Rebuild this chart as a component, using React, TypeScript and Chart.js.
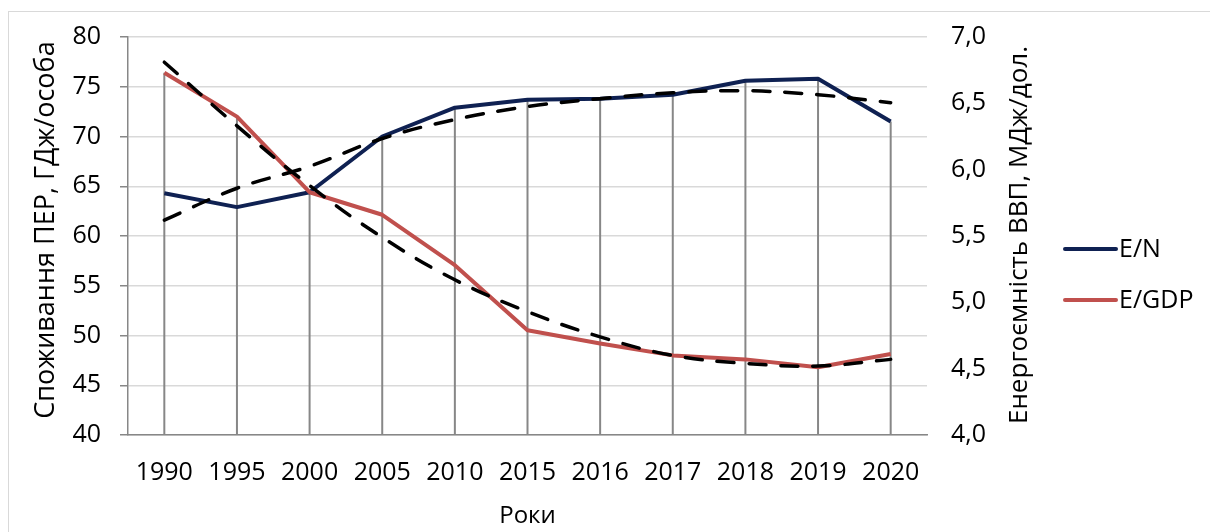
import React, { useEffect, useRef } from 'react';
import { Chart, registerables } from 'chart.js';

Chart.register(...registerables);

const categories = ['1990', '1995', '2000', '2005', '2010', '2015', '2016', '2017', '2018', '2019', '2020'];
const energyPerCapita = [64.3, 62.9, 64.4, 70.0, 72.9, 73.7, 73.8, 74.2, 75.6, 75.8, 71.5];
const energyIntensity = [6.73, 6.40, 5.83, 5.66, 5.28, 4.79, 4.69, 4.60, 4.57, 4.51, 4.61];
const energyPerCapitaTrend = [61.6, 64.8, 67.0, 69.8, 71.7, 73.0, 73.8, 74.4, 74.6, 74.2, 73.4];
const energyIntensityTrend = [6.81, 6.33, 5.88, 5.49, 5.17, 4.93, 4.74, 4.60, 4.54, 4.52, 4.57];
const seriesNames = ['E/N', 'E/GDP'];
const leftTitle = 'Споживання ПЕР, ГДж/особа';
const rightTitle = 'Енергоємність ВВП, МДж/дол.';
const xTitle = 'Роки';

const FONT = '"Open Sans"';
const NAVY = '#0f2152';
const RED = '#c0504d';

const overlayPlugin = {
  id: 'overlay',
  beforeDatasetsDraw(chart: any) {
    const { ctx, chartArea, scales } = chart;
    ctx.save();
    ctx.strokeStyle = '#878787';
    ctx.lineWidth = 2;
    categories.forEach((_, i) => {
      const px = scales.x.getPixelForValue(i);
      const top = Math.min(
        scales.y.getPixelForValue(energyPerCapita[i]),
        scales.y1.getPixelForValue(energyIntensity[i])
      );
      ctx.beginPath();
      ctx.moveTo(px, top);
      ctx.lineTo(px, chartArea.bottom);
      ctx.stroke();
    });
    ctx.restore();
  },
  afterDraw(chart: any) {
    const { ctx, chartArea } = chart;
    ctx.save();
    ctx.fillStyle = '#000';
    ctx.textAlign = 'center';
    ctx.textBaseline = 'middle';
    // left title
    ctx.save();
    ctx.font = `27px ${FONT}`;
    ctx.translate(37, 218);
    ctx.rotate(-Math.PI / 2);
    ctx.fillText(leftTitle, 0, 0);
    ctx.restore();
    // right title
    ctx.save();
    ctx.font = `26px ${FONT}`;
    ctx.translate(1011, 223);
    ctx.rotate(-Math.PI / 2);
    ctx.fillText(rightTitle, 0, 0);
    ctx.restore();
    // x title
    ctx.font = `24px ${FONT}`;
    ctx.fillText(xTitle, (chartArea.left + chartArea.right) / 2, 504);
    // legend
    const colors = [NAVY, RED];
    const ys = [237, 288];
    ctx.font = `25px ${FONT}`;
    ctx.textAlign = 'left';
    seriesNames.forEach((name, i) => {
      ctx.strokeStyle = colors[i];
      ctx.lineWidth = 4;
      ctx.lineCap = 'round';
      ctx.beginPath();
      ctx.moveTo(1056, ys[i]);
      ctx.lineTo(1107, ys[i]);
      ctx.stroke();
      ctx.fillText(name, 1110, ys[i] + 1);
    });
    ctx.restore();
  },
};

function zeroPad(scale: any) {
  scale.paddingTop = 0;
  scale.paddingBottom = 0;
  scale.paddingLeft = 0;
  scale.paddingRight = 0;
}

export default function App() {
  const ref = useRef<HTMLCanvasElement | null>(null);

  useEffect(() => {
    if (!ref.current) return;
    const chart = new Chart(ref.current, {
      type: 'line',
      data: {
        labels: categories,
        datasets: [
          {
            label: 'E/N trend',
            data: energyPerCapitaTrend,
            yAxisID: 'y',
            borderColor: '#000',
            borderWidth: 3.5,
            borderDash: [17, 15],
            borderCapStyle: 'round',
            tension: 0.4,
            pointRadius: 0,
            order: 0,
          },
          {
            label: 'E/GDP trend',
            data: energyIntensityTrend,
            yAxisID: 'y1',
            borderColor: '#000',
            borderWidth: 3.5,
            borderDash: [17, 15],
            borderCapStyle: 'round',
            tension: 0.4,
            pointRadius: 0,
            order: 0,
          },
          {
            label: seriesNames[1],
            data: energyIntensity,
            yAxisID: 'y1',
            borderColor: RED,
            borderWidth: 4,
            borderJoinStyle: 'round',
            pointRadius: 0,
            tension: 0,
            order: 1,
          },
          {
            label: seriesNames[0],
            data: energyPerCapita,
            yAxisID: 'y',
            borderColor: NAVY,
            borderWidth: 4,
            borderJoinStyle: 'round',
            pointRadius: 0,
            tension: 0,
            order: 2,
          },
        ],
      },
      options: {
        responsive: false,
        animation: false,
        devicePixelRatio: 1,
        layout: { padding: { top: 25, left: 0, right: 0, bottom: 0 } },
        plugins: {
          legend: { display: false },
          tooltip: { enabled: false },
        },
        scales: {
          x: {
            type: 'category',
            offset: true,
            grid: { display: false, drawTicks: false },
            border: { display: true, color: '#878787', width: 1.5 },
            ticks: { color: '#000', font: { family: FONT, size: 25 }, padding: 23, maxRotation: 0, autoSkip: false },
            afterFit(scale: any) {
              scale.height = 97;
              zeroPad(scale);
            },
          },
          y: {
            position: 'left',
            min: 40,
            max: 80,
            ticks: { stepSize: 5, color: '#000', font: { family: FONT, size: 25 }, padding: 19 },
            grid: { color: '#d9d9d9', lineWidth: 1.5, tickColor: '#878787', tickLength: 8 },
            border: { display: true, color: '#878787', width: 1.5 },
            afterFit(scale: any) {
              scale.width = 119;
              zeroPad(scale);
            },
          },
          y1: {
            position: 'right',
            min: 4,
            max: 7,
            ticks: {
              stepSize: 0.5,
              color: '#000',
              font: { family: FONT, size: 25 },
              padding: 24,
              callback: (v: any) => Number(v).toFixed(1).replace('.', ','),
            },
            grid: { display: false, drawTicks: false },
            border: { display: false },
            afterFit(scale: any) {
              scale.width = 283;
              zeroPad(scale);
            },
          },
        },
      },
      plugins: [overlayPlugin],
    } as any);
    return () => chart.destroy();
  }, []);

  return (
    <div
      style={{
        position: 'absolute',
        left: 8,
        top: 11,
        width: 1202,
        height: 521,
        borderLeft: '1px solid #d9d9d9',
        borderTop: '1px solid #d9d9d9',
        overflow: 'hidden',
      }}
    >
      <canvas ref={ref} width={1201} height={520} style={{ display: 'block', width: 1201, height: 520 }} />
    </div>
  );
}
